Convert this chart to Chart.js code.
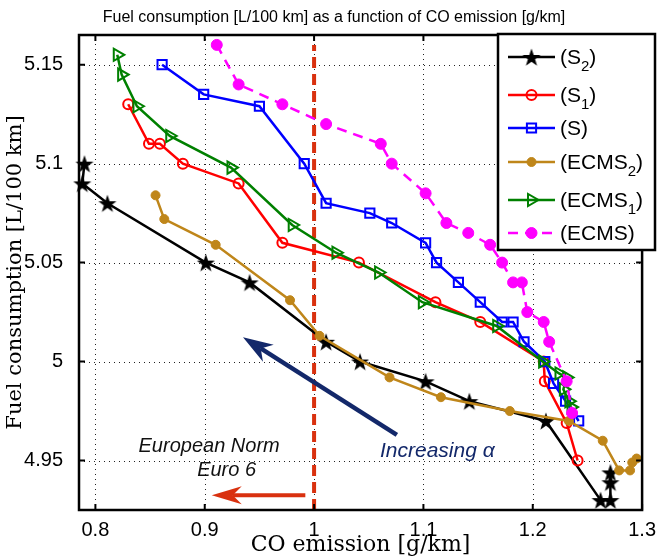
<!DOCTYPE html>
<html>
<head>
<meta charset="utf-8">
<title>Fuel consumption vs CO emission</title>
<script src="https://cdn.jsdelivr.net/npm/chart.js@4.4.1/dist/chart.umd.min.js"></script>
<style>
  html, body { margin: 0; padding: 0; background: #fff; }
  #wrap { width: 664px; height: 559px; }
</style>
</head>
<body>
<div id="wrap"><canvas id="chart" width="664" height="559"></canvas></div>
<script>
// CO emission [g/km] and fuel consumption [L/100 km] per strategy
const s2Co   = [0.790, 0.788, 0.811, 0.901, 0.941, 1.011, 1.042, 1.102, 1.142, 1.212, 1.262, 1.271, 1.271, 1.271];
const s2Fuel = [5.100, 5.090, 5.080, 5.050, 5.040, 5.010, 5.000, 4.990, 4.980, 4.970, 4.930, 4.930, 4.939, 4.944];

const s1Co   = [0.830, 0.849, 0.859, 0.880, 0.931, 0.971, 1.041, 1.111, 1.152, 1.210, 1.211, 1.231, 1.241];
const s1Fuel = [5.130, 5.110, 5.110, 5.100, 5.090, 5.060, 5.050, 5.030, 5.020, 5.000, 4.990, 4.969, 4.950];

const sCo    = [0.861, 0.899, 0.950, 0.991, 1.011, 1.051, 1.071, 1.102, 1.112, 1.132, 1.152, 1.172, 1.182, 1.192, 1.211, 1.219, 1.230, 1.242];
const sFuel  = [5.150, 5.135, 5.129, 5.100, 5.080, 5.075, 5.070, 5.060, 5.050, 5.040, 5.030, 5.020, 5.020, 5.010, 5.000, 4.989, 4.980, 4.970];

const ecms2Co   = [0.855, 0.863, 0.910, 0.978, 1.005, 1.069, 1.116, 1.179, 1.233, 1.264, 1.279, 1.289, 1.291, 1.295];
const ecms2Fuel = [5.084, 5.072, 5.059, 5.031, 5.013, 4.992, 4.982, 4.975, 4.970, 4.960, 4.945, 4.945, 4.949, 4.951];

const ecms1Co   = [0.820, 0.824, 0.838, 0.868, 0.924, 0.980, 1.020, 1.059, 1.099, 1.167, 1.209, 1.224, 1.231, 1.228, 1.233, 1.235];
const ecms1Fuel = [5.155, 5.145, 5.129, 5.114, 5.098, 5.069, 5.055, 5.045, 5.030, 5.018, 5.000, 4.994, 4.992, 4.986, 4.980, 4.977];

const ecmsCo   = [0.911, 0.931, 0.971, 1.011, 1.061, 1.071, 1.102, 1.121, 1.141, 1.161, 1.172, 1.182, 1.190, 1.195, 1.210, 1.215, 1.231, 1.236];
const ecmsFuel = [5.160, 5.140, 5.130, 5.120, 5.110, 5.100, 5.085, 5.070, 5.065, 5.059, 5.050, 5.040, 5.040, 5.025, 5.020, 5.010, 4.990, 4.974];

const xTicks = [0.8, 0.9, 1, 1.1, 1.2, 1.3];
const yTicks = [4.95, 5, 5.05, 5.1, 5.15];

const seriesNames = ['S', 'S', 'S', 'ECMS', 'ECMS', 'ECMS'];
const seriesSubs  = ['2', '1', '', '2', '1', ''];

const euroLimit = 1.0;   // Euro 6 CO limit [g/km]

// filled five-pointed star used as marker
function makeStar(size, color) {
  const c = document.createElement('canvas');
  c.width = size; c.height = size;
  const g = c.getContext('2d');
  const cx = size / 2, cy = size / 2 + 1, R = size / 2 - 0.5, r = R * 0.4;
  g.beginPath();
  for (let i = 0; i < 10; i++) {
    const rad = i % 2 === 0 ? R : r;
    const a = -Math.PI / 2 + i * Math.PI / 5;
    const px = cx + rad * Math.cos(a), py = cy + rad * Math.sin(a);
    if (i === 0) g.moveTo(px, py); else g.lineTo(px, py);
  }
  g.closePath();
  g.fillStyle = color;
  g.fill();
  return c;
}
const starImg = makeStar(20, '#000');

const toPts = (xs, ys) => xs.map((x, i) => ({ x: x, y: ys[i] }));

const GOLD = '#bf861a';
const GREEN = '#008000';

const datasets = [
  { data: toPts(s2Co, s2Fuel), borderColor: '#000', backgroundColor: '#000', borderWidth: 2.5,
    pointStyle: starImg, pointRadius: 10 },
  { data: toPts(s1Co, s1Fuel), borderColor: '#ff0000', backgroundColor: 'rgba(0,0,0,0)', borderWidth: 2.5,
    pointStyle: 'circle', pointRadius: 5, pointBorderWidth: 2 },
  { data: toPts(sCo, sFuel), borderColor: '#0000ff', backgroundColor: 'rgba(0,0,0,0)', borderWidth: 2.5,
    pointStyle: 'rect', pointRadius: 6.5, pointBorderWidth: 2 },
  { data: toPts(ecms2Co, ecms2Fuel), borderColor: GOLD, backgroundColor: GOLD, borderWidth: 2.5,
    pointStyle: 'circle', pointRadius: 4.5, pointBorderWidth: 1 },
  { data: toPts(ecms1Co, ecms1Fuel), borderColor: GREEN, backgroundColor: 'rgba(0,0,0,0)', borderWidth: 2.5,
    pointStyle: 'triangle', pointRotation: 90, pointRadius: 7, pointBorderWidth: 2 },
  { data: toPts(ecmsCo, ecmsFuel), borderColor: '#ff00ff', backgroundColor: '#ff00ff', borderWidth: 2.5,
    borderDash: [10, 7], pointStyle: 'circle', pointRadius: 5.5, pointBorderWidth: 1 }
];
datasets.forEach((d, i) => {
  d.showLine = true;
  d.tension = 0;
  d.clip = false;
  d.order = 6 - i;
  d.pointBackgroundColor = d.backgroundColor;
  d.pointBorderColor = d.borderColor;
});

function arrow(ctx, x0, y0, x1, y1, color, width, headLen, headHalf) {
  const dx = x1 - x0, dy = y1 - y0, len = Math.hypot(dx, dy);
  const ux = dx / len, uy = dy / len, px = -uy, py = ux;
  const bx = x1 - ux * headLen, by = y1 - uy * headLen;
  const nx = x1 - ux * headLen * 0.7, ny = y1 - uy * headLen * 0.7;
  ctx.save();
  ctx.strokeStyle = color; ctx.fillStyle = color; ctx.lineWidth = width;
  ctx.beginPath(); ctx.moveTo(x0, y0); ctx.lineTo(nx, ny); ctx.stroke();
  ctx.beginPath();
  ctx.moveTo(x1, y1);
  ctx.lineTo(bx + px * headHalf, by + py * headHalf);
  ctx.lineTo(nx, ny);
  ctx.lineTo(bx - px * headHalf, by - py * headHalf);
  ctx.closePath(); ctx.fill();
  ctx.restore();
}

// grid, frame, norm line, arrows, labels and legend
const decorations = {
  id: 'decorations',
  beforeDatasetsDraw(chart) {
    const { ctx, scales: { x, y }, chartArea: a } = chart;
    ctx.save();
    // dotted grid at the tick positions
    ctx.strokeStyle = '#222';
    ctx.lineWidth = 1;
    ctx.setLineDash([1, 4]);
    ctx.beginPath();
    xTicks.forEach(v => {
      const px = Math.round(x.getPixelForValue(v)) + 0.5;
      ctx.moveTo(px, a.bottom); ctx.lineTo(px, a.top);
    });
    yTicks.forEach(v => {
      const py = Math.round(y.getPixelForValue(v)) + 0.5;
      ctx.moveTo(a.left, py); ctx.lineTo(a.right, py);
    });
    ctx.stroke();

    // Euro 6 limit
    ctx.strokeStyle = '#d9310f';
    ctx.lineWidth = 4;
    ctx.setLineDash([11, 6]);
    ctx.beginPath();
    ctx.moveTo(x.getPixelForValue(euroLimit), a.bottom);
    ctx.lineTo(x.getPixelForValue(euroLimit), y.getPixelForValue(5.16));
    ctx.stroke();
    ctx.setLineDash([]);
    arrow(ctx, x.getPixelForValue(0.992), y.getPixelForValue(4.9325),
               x.getPixelForValue(0.9064), y.getPixelForValue(4.9325), '#d9310f', 4, 30, 9);
    arrow(ctx, x.getPixelForValue(1.0757), y.getPixelForValue(4.963),
               x.getPixelForValue(0.935), y.getPixelForValue(5.0123), '#13286a', 4.5, 30, 10);
    ctx.restore();
  },
  afterDraw(chart) {
    const { ctx, scales: { x, y }, chartArea: a } = chart;
    ctx.save();
    // box and inward ticks
    ctx.strokeStyle = '#000';
    ctx.lineWidth = 2.5;
    ctx.strokeRect(a.left, a.top, a.right - a.left, a.bottom - a.top);
    ctx.lineWidth = 2;
    ctx.beginPath();
    xTicks.forEach(v => {
      const px = x.getPixelForValue(v);
      ctx.moveTo(px, a.bottom); ctx.lineTo(px, a.bottom - 6);
      ctx.moveTo(px, a.top); ctx.lineTo(px, a.top + 6);
    });
    yTicks.forEach(v => {
      const py = y.getPixelForValue(v);
      ctx.moveTo(a.left, py); ctx.lineTo(a.left + 6, py);
      ctx.moveTo(a.right, py); ctx.lineTo(a.right - 6, py);
    });
    ctx.stroke();

    // annotations
    ctx.textAlign = 'center';
    ctx.textBaseline = 'middle';
    ctx.fillStyle = '#111';
    ctx.font = 'italic 20px "Liberation Sans"';
    ctx.fillText('European Norm', x.getPixelForValue(0.904), y.getPixelForValue(4.957));
    ctx.fillText('Euro 6', x.getPixelForValue(0.920), y.getPixelForValue(4.945));
    ctx.fillStyle = '#13286a';
    ctx.font = 'italic 21px "Liberation Sans"';
    ctx.fillText('Increasing \u03B1', x.getPixelForValue(1.1127), y.getPixelForValue(4.9545));

    // titles
    ctx.fillStyle = '#000';
    ctx.font = '16px "Liberation Sans"';
    ctx.fillText('Fuel consumption [L/100 km] as a function of CO emission [g/km]', 334, 18);
    ctx.font = '22px "DejaVu Serif"';
    ctx.fillText('CO emission [g/km]', (a.left + a.right) / 2, 545);
    ctx.save();
    ctx.translate(16, (a.top + a.bottom) / 2);
    ctx.rotate(-Math.PI / 2);
    ctx.font = '21px "DejaVu Serif"';
    ctx.fillText('Fuel consumption [L/100 km]', 0, 0);
    ctx.restore();

    // legend
    const L = 498, T = 34, R = 655, B = 250;
    ctx.fillStyle = '#fff';
    ctx.fillRect(L, T, R - L, B - T);
    ctx.strokeStyle = '#000';
    ctx.lineWidth = 2.5;
    ctx.strokeRect(L, T, R - L, B - T);
    const rows = [57, 95, 128, 162, 200, 233];
    datasets.forEach((d, i) => {
      const yy = rows[i];
      ctx.save();
      ctx.strokeStyle = d.borderColor;
      ctx.lineWidth = 2.5;
      if (d.borderDash) ctx.setLineDash(d.borderDash);
      ctx.beginPath(); ctx.moveTo(508, yy); ctx.lineTo(555, yy); ctx.stroke();
      ctx.restore();
      const cx = 531.5;
      if (i === 0) {
        ctx.drawImage(starImg, cx - 10, yy - 10);
      } else {
        ctx.save();
        ctx.fillStyle = d.backgroundColor;
        ctx.strokeStyle = d.borderColor;
        ctx.lineWidth = d.pointBorderWidth;
        Chart.helpers.drawPoint(ctx, {
          pointStyle: d.pointStyle, rotation: d.pointRotation || 0,
          radius: d.pointRadius, borderWidth: d.pointBorderWidth
        }, cx, yy);
        ctx.restore();
      }
      // label with subscript
      ctx.fillStyle = '#000';
      ctx.textAlign = 'left';
      ctx.textBaseline = 'alphabetic';
      ctx.font = '21px "Liberation Sans"';
      let tx = 560;
      const base = yy + 7;
      const head = '(' + seriesNames[i];
      ctx.fillText(head, tx, base);
      tx += ctx.measureText(head).width;
      if (seriesSubs[i]) {
        ctx.font = '15px "Liberation Sans"';
        ctx.fillText(seriesSubs[i], tx, base + 7);
        tx += ctx.measureText(seriesSubs[i]).width;
        ctx.font = '21px "Liberation Sans"';
      }
      ctx.fillText(')', tx, base);
    });
    ctx.restore();
  }
};

new Chart(document.getElementById('chart'), {
  type: 'scatter',
  data: { datasets: datasets },
  plugins: [decorations],
  options: {
    responsive: false,
    animation: false,
    layout: { padding: { top: 35, right: 16, left: 0, bottom: 0 } },
    plugins: { legend: { display: false }, tooltip: { enabled: false }, title: { display: false } },
    scales: {
      x: {
        type: 'linear', min: 0.785, max: 1.3,
        afterBuildTicks: s => { s.ticks = xTicks.map(v => ({ value: v })); },
        afterFit: s => { s.height = 49; },
        ticks: { color: '#000', font: { family: 'Liberation Sans', size: 20 }, padding: 8,
                 maxRotation: 0, callback: v => String(+v.toFixed(2)) },
        grid: { display: false, drawTicks: false },
        border: { display: false }
      },
      y: {
        type: 'linear', min: 4.925, max: 5.165,
        afterBuildTicks: s => { s.ticks = yTicks.map(v => ({ value: v })); },
        afterFit: s => { s.width = 79; },
        ticks: { color: '#000', font: { family: 'Liberation Sans', size: 20 }, padding: 16,
                 callback: v => String(+v.toFixed(2)) },
        grid: { display: false, drawTicks: false },
        border: { display: false }
      }
    }
  }
});
</script>
</body>
</html>
